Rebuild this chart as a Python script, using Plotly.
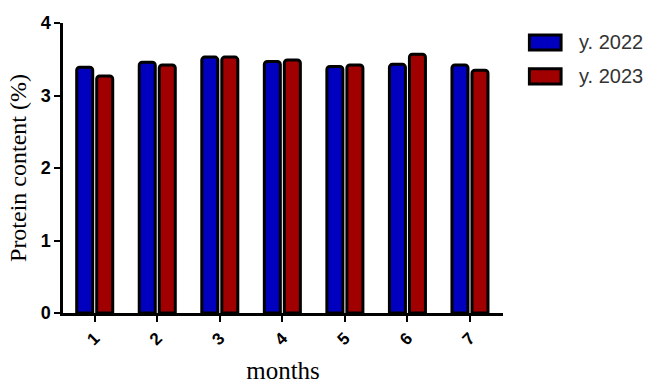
import plotly.graph_objects as go

# Monthly protein content of milk, two seasons
months = ["1", "2", "3", "4", "5", "6", "7"]
protein_2022 = [3.39, 3.46, 3.53, 3.47, 3.40, 3.43, 3.42]
protein_2023 = [3.27, 3.42, 3.53, 3.49, 3.42, 3.57, 3.35]
series_names = ["y. 2022", "y. 2023"]
series_colors = ["#0000BE", "#A00000"]

fig = go.Figure()
for name, vals, col in zip(series_names, [protein_2022, protein_2023], series_colors):
    fig.add_trace(go.Bar(
        x=months, y=vals, name=name,
        marker=dict(color=col, line=dict(color="black", width=3), cornerradius=3),
        showlegend=False,
    ))

# Legend keys drawn as wide outlined boxes with labels beside them
key_rows = [0.933, 0.816]
for name, col, yc in zip(series_names, series_colors, key_rows):
    fig.add_shape(type="rect", xref="paper", yref="paper",
                  x0=1.06, x1=1.132, y0=yc - 0.026, y1=yc + 0.026,
                  fillcolor=col, line=dict(color="black", width=3))
    fig.add_annotation(xref="paper", yref="paper", x=1.168, y=yc,
                       text=name, showarrow=False, xanchor="left", yanchor="middle",
                       font=dict(family="Liberation Sans, Arial", size=20, color="#333333"))

fig.update_layout(
    width=662, height=387,
    margin=dict(l=63, r=159, t=23, b=74),
    paper_bgcolor="white", plot_bgcolor="white",
    barmode="group", bargap=0.36, bargroupgap=0.2,
    xaxis=dict(
        type="category", range=[-0.507, 6.528],
        automargin=False,
        showline=True, linecolor="black", linewidth=2.5,
        ticks="outside", ticklen=6, tickwidth=2, tickcolor="black",
        tickangle=-45,
        tickfont=dict(family="Liberation Sans, Arial", size=17, color="black", weight="bold"),
        title=dict(text="months", standoff=14,
                   font=dict(family="Liberation Serif, Times New Roman", size=25, color="black")),
        showgrid=False, zeroline=False,
    ),
    yaxis=dict(
        range=[0, 4], dtick=1,
        showline=True, linecolor="black", linewidth=2.5,
        ticks="outside", ticklen=6, tickwidth=2, tickcolor="black",
        tickfont=dict(family="Liberation Sans, Arial", size=18, color="black", weight="bold"),
        title=dict(text="Protein content (%)", standoff=8,
                   font=dict(family="Liberation Serif, Times New Roman", size=24, color="black")),
        showgrid=False, zeroline=False,
    ),
)

fig.write_html("out.html")
